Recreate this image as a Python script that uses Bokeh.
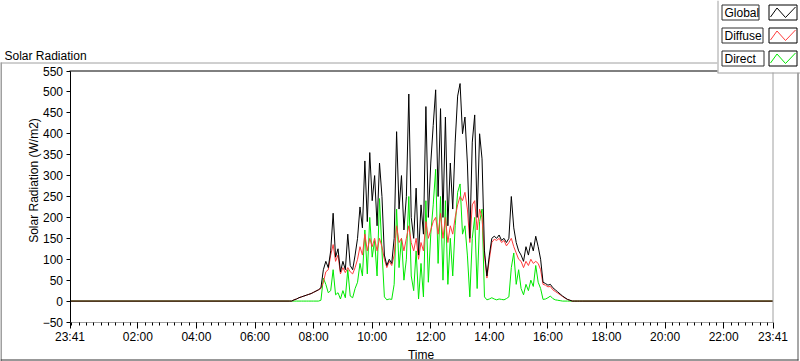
from bokeh.plotting import figure
from bokeh.models import Range1d, FixedTicker, Label, BoxAnnotation, Arrow
from bokeh.core import enums
from bokeh.embed import file_html
from bokeh.resources import INLINE

# ---------------- data ----------------
T_MIN, T_MAX = -19, 1421          # minutes from midnight: 23:41 (prev. day) .. 23:41
V_MIN, V_MAX = -50, 550
DAY_START, DAY_STEP = 430, 5      # first daytime sample 07:10, one sample every 5 min

global_rad = [
    0, 0, 3, 5, 8, 10, 12, 14, 16, 18, 21, 24,                 # 07:10
    27, 32, 75, 95, 80, 120, 210, 105, 125, 70, 95, 75,        # 08:10
    160, 85, 75, 110, 150, 225, 175, 335, 190, 355, 240, 300,  # 09:10
    180, 330, 250, 110, 85, 100, 90, 150, 405, 220, 300, 170,  # 10:10
    250, 495, 200, 150, 270, 110, 230, 160, 465, 200, 330, 420,  # 11:10
    505, 250, 460, 200, 440, 180, 330, 220, 380, 490, 520, 400,  # 12:10
    440, 330, 150, 380, 445, 200, 400, 340, 120, 60, 110, 150,   # 13:10
    155, 150, 158, 145, 150, 140, 150, 250, 175, 140, 120, 110,  # 14:10
    95, 130, 110, 140, 120, 155, 130, 100, 45, 42, 38, 40,       # 15:10
    32, 27, 22, 17, 12, 8, 4, 2, 0, 0, 0, 0,                     # 16:10
    0,
]
diffuse_rad = [
    0, 0, 3, 5, 8, 10, 12, 14, 16, 18, 21, 24,
    27, 30, 45, 70, 75, 110, 135, 95, 110, 65, 80, 68,
    80, 70, 65, 80, 100, 130, 110, 160, 120, 150, 130, 150,
    120, 150, 130, 100, 80, 95, 85, 110, 180, 140, 150, 120,
    150, 180, 140, 120, 150, 100, 140, 120, 190, 150, 170, 190,
    200, 160, 210, 150, 200, 140, 180, 160, 200, 230, 250, 240,
    260, 220, 140, 230, 240, 170, 220, 200, 110, 55, 100, 140,
    148, 145, 150, 140, 145, 132, 140, 150, 130, 115, 100, 95,
    80, 95, 85, 100, 90, 95, 90, 75, 40, 38, 34, 35,
    27, 23, 19, 15, 11, 7, 4, 2, 0, 0, 0, 0,
    0,
]
direct_rad = [
    0, 0, 0, 0, 0, 0, 0, 0, 0, 0, 0, 0,
    0, 2, 55, 40, 20, 25, 75, 15, 20, 5, 25, 8,
    75, 12, 8, 30, 45, 90, 60, 170, 65, 200, 105, 145,
    60, 245, 120, 10, 3, 5, 4, 40, 220, 80, 150, 50,
    100, 250, 60, 25, 120, 5, 90, 10, 240, 45, 160, 230,
    315, 90, 250, 50, 240, 40, 150, 60, 180, 260, 280, 160,
    180, 110, 10, 150, 200, 30, 190, 220, 10, 3, 5, 8,
    5, 3, 5, 4, 3, 6, 10, 80, 115, 40, 75, 30,
    15, 40, 25, 50, 35, 85, 45, 30, 4, 5, 8, 12,
    6, 3, 2, 1, 0, 0, 0, 0, 0, 0, 0, 0,
    0,
]
series_names = ["Global", "Diffuse", "Direct"]
series_colors = ["#000000", "#ff3c3c", "#00e800"]

y_ticks = [-50, 0, 50, 100, 150, 200, 250, 300, 350, 400, 450, 500, 550]
x_tick_pos = [-19, 120, 240, 360, 480, 600, 720, 840, 960, 1080, 1200, 1320, 1421]
x_tick_labels = ["23:41", "02:00", "04:00", "06:00", "08:00", "10:00", "12:00",
                 "14:00", "16:00", "18:00", "20:00", "22:00", "23:41"]
MINOR_STEP = 15

# ---------------- layout ----------------
W, H = 800, 361
PX_L, PX_R, PY_T, PY_B = 69.5, 772.5, 70.5, 321.5   # plot area in canvas pixels
FONT = "Liberation Sans"

# the frame covers the whole canvas; ranges are set so the data area lands on the plot area
kx = (T_MAX - T_MIN) / (PX_R - PX_L)
ky = (V_MAX - V_MIN) / (PY_B - PY_T)
x_rng = Range1d(T_MIN - PX_L * kx, T_MAX + (W - PX_R) * kx)
y_rng = Range1d(V_MIN - (H - PY_B) * ky, V_MAX + PY_T * ky)

p = figure(width=W, height=H, output_backend="svg", toolbar_location=None,
           x_range=x_rng, y_range=y_rng,
           min_border_left=0, min_border_right=0, min_border_top=0, min_border_bottom=0)
p.min_border = 0
p.title.visible = False
p.outline_line_color = None
p.grid.visible = False
p.background_fill_color = "white"
p.border_fill_color = "white"


def series(vals):
    ts = [T_MIN] + [DAY_START + DAY_STEP * i for i in range(len(vals))] + [T_MAX]
    return ts, [0] + list(vals) + [0]


for vals, col in [(direct_rad, series_colors[2]), (diffuse_rad, series_colors[1]),
                  (global_rad, series_colors[0])]:
    xs, ys = series(vals)
    p.line(xs, ys, line_color=col, line_width=1)

# axes, pinned to the plot-area edges (zero-size side panels)
xa = p.xaxis[0]
xa.fixed_location = V_MIN
xa.bounds = (T_MIN, T_MAX)
xa.ticker = FixedTicker(ticks=x_tick_pos,
                        minor_ticks=list(range(-MINOR_STEP, T_MAX, MINOR_STEP)))
xa.major_label_overrides = dict(zip(x_tick_pos, x_tick_labels))
xa.axis_line_color = "#a0a0a0"
xa.major_tick_line_color = "black"
xa.minor_tick_line_color = "black"
xa.major_tick_out, xa.major_tick_in = 6, 0
xa.minor_tick_out, xa.minor_tick_in = 3, 0
xa.major_label_standoff = 2
xa.major_label_text_font = FONT
xa.major_label_text_font_size = "12px"
xa.major_label_text_color = "black"

ya = p.yaxis[0]
ya.fixed_location = T_MIN
ya.bounds = (V_MIN, V_MAX)
ya.ticker = FixedTicker(ticks=y_ticks)
ya.axis_line_color = "black"
ya.major_tick_line_color = "black"
ya.minor_tick_line_color = None
ya.major_tick_out, ya.major_tick_in = 4, 0
ya.major_label_standoff = 3
ya.major_label_text_font = FONT
ya.major_label_text_font_size = "12px"
ya.major_label_text_color = "black"

# ---- decorations in canvas pixels ----
CANVAS = "canvas" in getattr(enums, "CoordinateUnits", [])
UNITS = (["canvas"] if CANVAS else []) + ["screen"]


def cx(px, u):
    return px


def cy(py, u):
    return py if u == "canvas" else H - py


def seg(x0, y0, x1, y1, color, w=1):
    for u in UNITS:
        try:
            a = Arrow(start=None, end=None, x_start=cx(x0, u), y_start=cy(y0, u),
                      x_end=cx(x1, u), y_end=cy(y1, u), start_units=u, end_units=u,
                      line_color=color, line_width=w)
            break
        except Exception:
            continue
    p.add_layout(a)


def box(l, t, r, b, line="black", fill="white"):
    for u in UNITS:
        try:
            bx = BoxAnnotation(left=cx(l, u), right=cx(r, u), top=cy(t, u), bottom=cy(b, u),
                               left_units=u, right_units=u, top_units=u, bottom_units=u,
                               fill_color=fill, fill_alpha=1.0,
                               line_color=line, line_width=1, line_alpha=1.0)
            break
        except Exception:
            continue
    p.add_layout(bx)


def text(px, py, s, align="left", baseline="alphabetic", angle=0.0, size="12px"):
    for u in UNITS:
        try:
            lb = Label(x=cx(px, u), y=cy(py, u), x_units=u, y_units=u,
                       text=s, text_font=FONT, text_font_size=size, text_color="black",
                       text_align=align, text_baseline=baseline, angle=angle)
            break
        except Exception:
            continue
    p.add_layout(lb)


# plot area top (black) and right (gray) borders
seg(69, 70.5, 772, 70.5, "black")
seg(772.5, 70, 772.5, 322, "#a0a0a0")

# outer pane border
seg(0.5, 62, 0.5, 361, "#a0a0a0", 2)
seg(0, 62.5, 717, 62.5, "#a0a0a0", 1)
seg(797.5, 72, 797.5, 360, "#505050", 1)
seg(0, 359.5, 798, 359.5, "#303030", 1)

# titles
text(4, 55, "Solar Radiation")
text(420.5, 354, "Time", align="center")
text(33, 180, "Solar Radiation (W/m2)", align="center", angle=1.5707963)

# legend panel
box(717, 0, 800, 72, line=None)
seg(717.5, 0, 717.5, 72.5, "#a0a0a0")
seg(717, 72.5, 800, 72.5, "#a0a0a0")
legend_tops = [4, 27, 50]
legend_text_right = [758, 762, 763]
for name, col, top, tr in zip(series_names, series_colors, legend_tops, legend_text_right):
    box(721.5, top + 0.5, tr + 0.5, top + 15.5, line="#303030")
    text(724, top + 8, name, baseline="middle")
    box(768.5, top + 0.5, 796.5, top + 15.5, line="black")
    zx = [770, 776.5, 785, 795]
    zy = [top + 12.5, top + 3.5, top + 13, top + 2.5]
    for i in range(3):
        seg(zx[i], zy[i], zx[i + 1], zy[i + 1], col)

open("out.html", "w").write(file_html(p, INLINE))
